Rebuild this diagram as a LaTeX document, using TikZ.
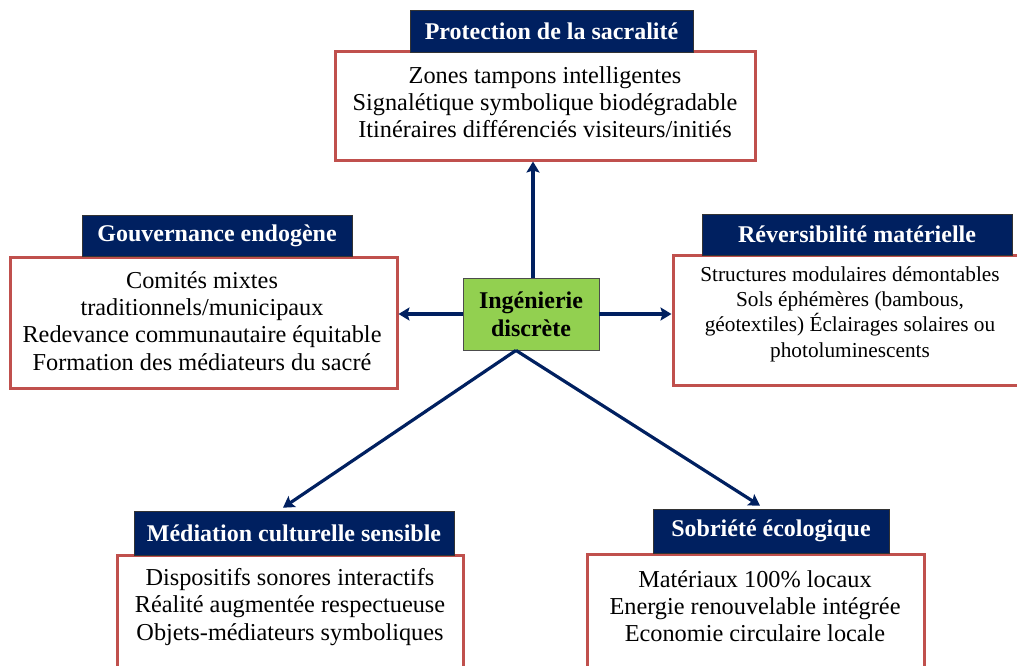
\documentclass[tikz,border=0pt]{standalone}
\usepackage{fontspec}
\setmainfont{Liberation Serif}
\usetikzlibrary{arrows.meta,calc}
\definecolor{navy}{HTML}{002060}
\definecolor{redb}{HTML}{C0504D}
\definecolor{greenc}{HTML}{92D050}
\begin{document}
\begin{tikzpicture}[x=1pt,y=-1pt,
 redbox/.style={draw=redb, line width=3pt, fill=white, inner sep=0pt},
 titlebox/.style={draw=black!80, line width=0.6pt, fill=navy, text=white, font=\bfseries\fontsize{24}{27}\selectfont, inner sep=0pt},
 bodytext/.style={align=center, font=\fontsize{24.3}{27.2}\selectfont, inner sep=0pt},
 smalltext/.style={align=center, font=\fontsize{21.3}{25.3}\selectfont, inner sep=0pt},
 corebox/.style={draw=black!70, line width=0.8pt, fill=greenc, align=center, font=\bfseries\fontsize{24}{28}\selectfont, inner sep=0pt},
 link/.style={draw=navy, line width=3.2pt, -{Stealth[length=11pt,width=13pt,inset=2pt]}}]

\useasboundingbox (0,0) rectangle (1017,666);
\fill[white] (0,0) rectangle (1017,666);

% top
\node[redbox, minimum width=420, minimum height=108] (tbox) at (545,106) {};
\node[bodytext] (ttext) at (545,102) {Zones tampons intelligentes\\Signalétique symbolique biodégradable\\Itinéraires différenciés visiteurs/initiés};
\node[titlebox, minimum width=283, minimum height=42] (ttitle) at (551.5,31) {Protection de la sacralité};

% center
\node[corebox, minimum width=136, minimum height=72] (core) at (531,314) {Ingénierie\\discrète};

% left
\node[redbox, minimum width=387, minimum height=131] (lbox) at (203.5,322.5) {};
\node[bodytext] (ltext) at (202,321) {Comités mixtes\\traditionnels/municipaux\\Redevance communautaire équitable\\Formation des médiateurs du sacré};
\node[titlebox, minimum width=270, minimum height=41] (ltitle) at (217,235.5) {Gouvernance endogène};

% right
\node[redbox, minimum width=357, minimum height=130] (rbox) at (851.5,320) {};
\node[smalltext] (rtext) at (850,314) {Structures modulaires démontables\\Sols éphémères (bambous,\\géotextiles) Éclairages solaires ou\\photoluminescents};
\node[titlebox, minimum width=310, minimum height=41] (rtitle) at (857,234.5) {Réversibilité matérielle};

% bottom left
\node[redbox, minimum width=346, minimum height=140, anchor=north] (blbox) at (290,554) {};
\node[bodytext] (bltext) at (290,607) {Dispositifs sonores interactifs\\Réalité augmentée respectueuse\\Objets-médiateurs symboliques};
\node[titlebox, minimum width=320, minimum height=44] (bltitle) at (294,533) {Médiation culturelle sensible};

% bottom right
\node[redbox, minimum width=337, minimum height=140, anchor=north] (brbox) at (755.5,553) {};
\node[bodytext] (brtext) at (755,606) {Matériaux 100\% locaux\\Energie renouvelable intégrée\\Economie circulaire locale};
\node[titlebox, minimum width=236, minimum height=44] (brtitle) at (771,531) {Sobriété écologique};

% connectors
\coordinate (up) at ($(core.north)+(2,0)$);
\draw[link] (up) -- (up |- tbox.south);
\draw[link] (core.west) -- (core.west -| lbox.east);
\draw[link] (core.east) -- (core.east -| rbox.west);
\coordinate (apex) at ($(core.south)+(-15,0)$);
\coordinate (blend) at ($(bltitle.north)+(-11,-3)$);
\coordinate (brend) at ($(brtitle.north)+(-11,-3)$);
\draw[link] (apex) -- (blend);
\draw[link] (apex) -- (brend);
\end{tikzpicture}
\end{document}
